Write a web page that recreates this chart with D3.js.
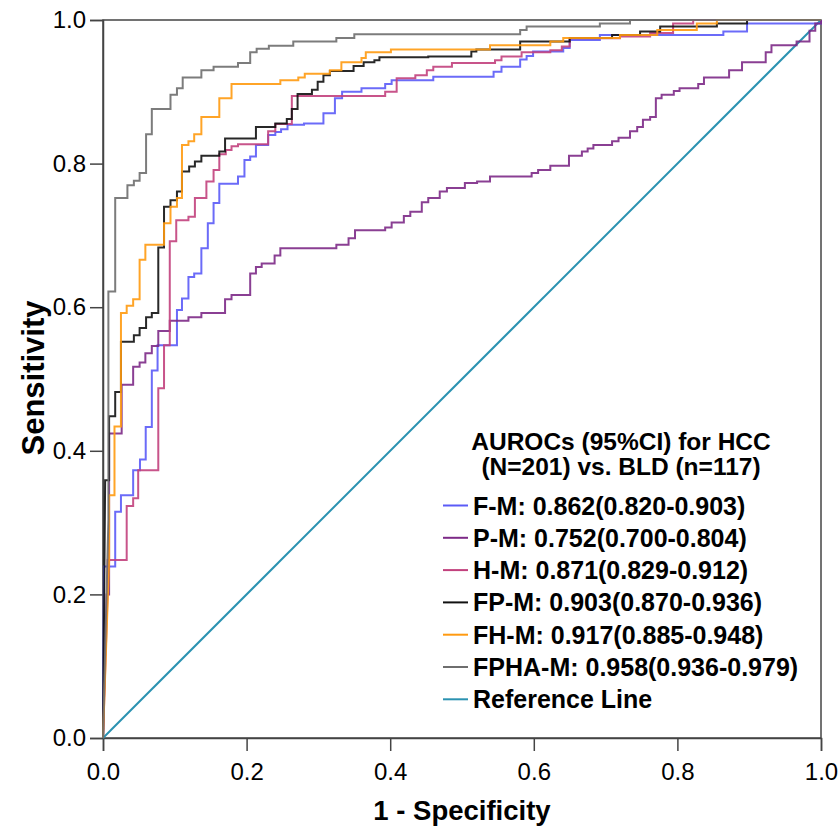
<!DOCTYPE html>
<html><head><meta charset="utf-8">
<script src="https://cdn.jsdelivr.net/npm/d3@7/dist/d3.min.js"></script>
<style>
body{margin:0;background:#fff}
text{font-family:"Liberation Sans",Arial,sans-serif;fill:#000}
</style>
</head><body>
<svg id="chart" width="840" height="827"></svg>
<script>
// ---------- data ----------
const xTicks = [0, 0.2, 0.4, 0.6, 0.8, 1.0];
const yTicks = [0, 0.2, 0.4, 0.6, 0.8, 1.0];
const seriesNames = ["F-M", "P-M", "H-M", "FP-M", "FH-M", "FPHA-M"];
const aurocTexts = ["0.862(0.820-0.903)", "0.752(0.700-0.804)", "0.871(0.829-0.912)",
                    "0.903(0.870-0.936)", "0.917(0.885-0.948)", "0.958(0.936-0.979)"];
const seriesColors = ["#5b5bf7", "#7d2a87", "#c2417d", "#111111", "#ff9a10", "#6e6e6e"];
const refColor = "#2b92b1";
const legendTitle = ["AUROCs (95%CI) for HCC", "(N=201) vs. BLD (n=117)"];

// ROC points: [1 - specificity, sensitivity] (sensitivity after each rise)
const fmPoints = [[0,0],[0.0014,0.239],[0.017,0.315],[0.025,0.338],[0.042,0.373],[0.0515,0.388],[0.0595,0.433],[0.068,0.512],[0.076,0.547],[0.103,0.596],[0.110,0.612],[0.119,0.642],[0.127,0.647],[0.137,0.682],[0.146,0.717],[0.154,0.745],[0.162,0.772],[0.188,0.782],[0.197,0.805],[0.205,0.810],[0.213,0.826],[0.230,0.840],[0.240,0.844],[0.248,0.848],[0.257,0.854],[0.280,0.856],[0.307,0.870],[0.323,0.891],[0.333,0.900],[0.360,0.905],[0.393,0.911],[0.402,0.916],[0.460,0.921],[0.544,0.928],[0.555,0.935],[0.581,0.945],[0.590,0.950],[0.599,0.956],[0.641,0.961],[0.650,0.972],[0.692,0.979],[0.864,0.984],[0.897,0.995],[1,1]];
const pmPoints = [[0,0],[0.005,0.200],[0.0085,0.424],[0.026,0.492],[0.042,0.517],[0.051,0.523],[0.059,0.536],[0.068,0.546],[0.077,0.567],[0.093,0.581],[0.119,0.586],[0.137,0.592],[0.170,0.611],[0.179,0.617],[0.205,0.647],[0.213,0.656],[0.221,0.661],[0.239,0.672],[0.247,0.682],[0.325,0.687],[0.342,0.696],[0.351,0.707],[0.393,0.711],[0.402,0.718],[0.419,0.727],[0.428,0.733],[0.444,0.746],[0.453,0.752],[0.469,0.761],[0.479,0.766],[0.504,0.773],[0.521,0.775],[0.539,0.782],[0.597,0.787],[0.606,0.791],[0.623,0.797],[0.649,0.811],[0.667,0.817],[0.675,0.821],[0.683,0.826],[0.709,0.831],[0.718,0.836],[0.734,0.845],[0.744,0.851],[0.752,0.861],[0.762,0.865],[0.770,0.891],[0.778,0.896],[0.795,0.901],[0.803,0.905],[0.829,0.911],[0.837,0.920],[0.872,0.930],[0.890,0.941],[0.923,0.955],[0.931,0.965],[0.966,0.970],[0.984,0.985],[0.992,0.995],[1,1]];
const hmPoints = [[0,0],[0.0065,0.204],[0.0065,0.248],[0.033,0.323],[0.042,0.334],[0.049,0.373],[0.077,0.487],[0.085,0.547],[0.093,0.692],[0.102,0.721],[0.119,0.726],[0.128,0.752],[0.144,0.775],[0.154,0.791],[0.162,0.813],[0.171,0.819],[0.179,0.824],[0.188,0.827],[0.230,0.845],[0.240,0.855],[0.263,0.894],[0.393,0.900],[0.409,0.919],[0.435,0.923],[0.451,0.930],[0.460,0.935],[0.486,0.940],[0.546,0.944],[0.555,0.949],[0.583,0.955],[0.623,0.958],[0.639,0.963],[0.650,0.9745],[0.720,0.977],[0.762,0.982],[0.794,0.995],[0.822,1],[1,1]];
const fpmPoints = [[0,0],[0.003,0.359],[0.0085,0.448],[0.017,0.482],[0.025,0.552],[0.043,0.561],[0.051,0.571],[0.060,0.586],[0.068,0.592],[0.077,0.683],[0.085,0.740],[0.094,0.749],[0.103,0.761],[0.110,0.789],[0.120,0.796],[0.128,0.803],[0.137,0.811],[0.162,0.817],[0.170,0.835],[0.213,0.851],[0.240,0.856],[0.256,0.862],[0.263,0.876],[0.271,0.897],[0.291,0.903],[0.299,0.914],[0.307,0.923],[0.316,0.929],[0.349,0.936],[0.363,0.941],[0.378,0.944],[0.385,0.948],[0.453,0.949],[0.513,0.956],[0.520,0.959],[0.581,0.970],[0.650,0.975],[0.709,0.979],[0.748,0.984],[0.776,0.991],[0.855,0.995],[0.897,1],[1,1]];
const fhmPoints = [[0,0],[0.0085,0.248],[0.0085,0.338],[0.016,0.434],[0.025,0.592],[0.033,0.602],[0.042,0.611],[0.051,0.666],[0.059,0.687],[0.085,0.717],[0.094,0.740],[0.103,0.752],[0.110,0.826],[0.119,0.831],[0.127,0.841],[0.137,0.865],[0.162,0.891],[0.179,0.911],[0.247,0.916],[0.272,0.920],[0.281,0.925],[0.316,0.930],[0.332,0.941],[0.360,0.947],[0.366,0.955],[0.401,0.959],[0.539,0.965],[0.623,0.970],[0.641,0.975],[0.720,0.979],[0.772,0.986],[0.827,0.995],[0.855,1],[1,1]];
const fphamPoints = [[0,0],[0.0075,0.304],[0.0075,0.622],[0.017,0.752],[0.034,0.770],[0.043,0.776],[0.051,0.787],[0.060,0.841],[0.068,0.876],[0.094,0.896],[0.103,0.905],[0.111,0.920],[0.137,0.930],[0.154,0.935],[0.188,0.940],[0.205,0.955],[0.214,0.960],[0.231,0.964],[0.265,0.970],[0.325,0.975],[0.350,0.980],[0.581,0.986],[0.590,0.991],[0.692,0.995],[0.734,1],[1,1]];
const refPoints = [[0,0],[1,1]];

const allSeries = [fmPoints, pmPoints, hmPoints, fpmPoints, fhmPoints, fphamPoints];

// ---------- chart ----------
const svg = d3.select("#chart");
const x = d3.scaleLinear().domain([0, 1]).range([103, 821]);
const y = d3.scaleLinear().domain([0, 1]).range([738, 20]);

// frame
svg.append("rect").attr("x", x(0)).attr("y", y(1))
  .attr("width", x(1) - x(0)).attr("height", y(0) - y(1))
  .attr("fill", "none").attr("stroke", "#444").attr("stroke-width", 1.5);

// axes
const xAxis = svg.append("g").attr("transform", `translate(0,${y(0)})`)
  .call(d3.axisBottom(x).tickValues(xTicks).tickFormat(d3.format(".1f")).tickSize(13).tickPadding(12));
const yAxis = svg.append("g").attr("transform", `translate(${x(0)},0)`)
  .call(d3.axisLeft(y).tickValues(yTicks).tickFormat(d3.format(".1f")).tickSize(13).tickPadding(4));
[xAxis, yAxis].forEach(a => {
  a.select(".domain").attr("stroke", "#444").attr("stroke-width", 1.5);
  a.selectAll(".tick line").attr("stroke", "#444").attr("stroke-width", 1.5);
  a.selectAll(".tick text").attr("font-size", 24).attr("fill", "#000")
    .style("font-family", '"Liberation Sans", Arial, sans-serif');
});

// reference line
const lineLin = d3.line().x(d => x(d[0])).y(d => y(d[1]));
svg.append("path").attr("d", lineLin(refPoints)).attr("fill", "none")
  .attr("stroke", refColor).attr("stroke-width", 2);

// ROC curves: diagonal first segment from origin, then steps
const stepLine = d3.line().x(d => x(d[0])).y(d => y(d[1])).curve(d3.curveStepAfter);
allSeries.forEach((pts, i) => {
  const rest = stepLine(pts.slice(1));
  const d = `M${x(pts[0][0])},${y(pts[0][1])}L` + rest.slice(1);
  svg.append("path").attr("d", d).attr("fill", "none")
    .attr("stroke", seriesColors[i]).attr("stroke-width", 2).attr("stroke-opacity", 0.9)
    .attr("stroke-linejoin", "miter");
});

// axis titles
svg.append("text").attr("x", 462).attr("y", 820).attr("text-anchor", "middle")
  .attr("font-size", 27.5).attr("font-weight", "bold").text("1 - Specificity");
svg.append("text").attr("transform", `translate(44,${378}) rotate(-90)`)
  .attr("text-anchor", "middle").attr("font-size", 31).attr("font-weight", "bold").text("Sensitivity");

// legend
const lg = svg.append("g");
legendTitle.forEach((t, i) => {
  lg.append("text").attr("x", 621).attr("y", 450 + i * 25).attr("text-anchor", "middle")
    .attr("font-size", 24.5).attr("font-weight", "bold").text(t);
});
const legendLabels = seriesNames.map((n, i) => `${n}: ${aurocTexts[i]}`).concat(["Reference Line"]);
const legendColors = seriesColors.concat([refColor]);
legendLabels.forEach((t, i) => {
  const cy = 505.5 + i * 32.3;
  lg.append("line").attr("x1", 443).attr("x2", 468).attr("y1", cy).attr("y2", cy)
    .attr("stroke", legendColors[i]).attr("stroke-width", 2);
  lg.append("text").attr("x", 473).attr("y", cy).attr("dy", "0.36em")
    .attr("font-size", 25).attr("font-weight", "bold").text(t);
});
</script>
</body></html>
